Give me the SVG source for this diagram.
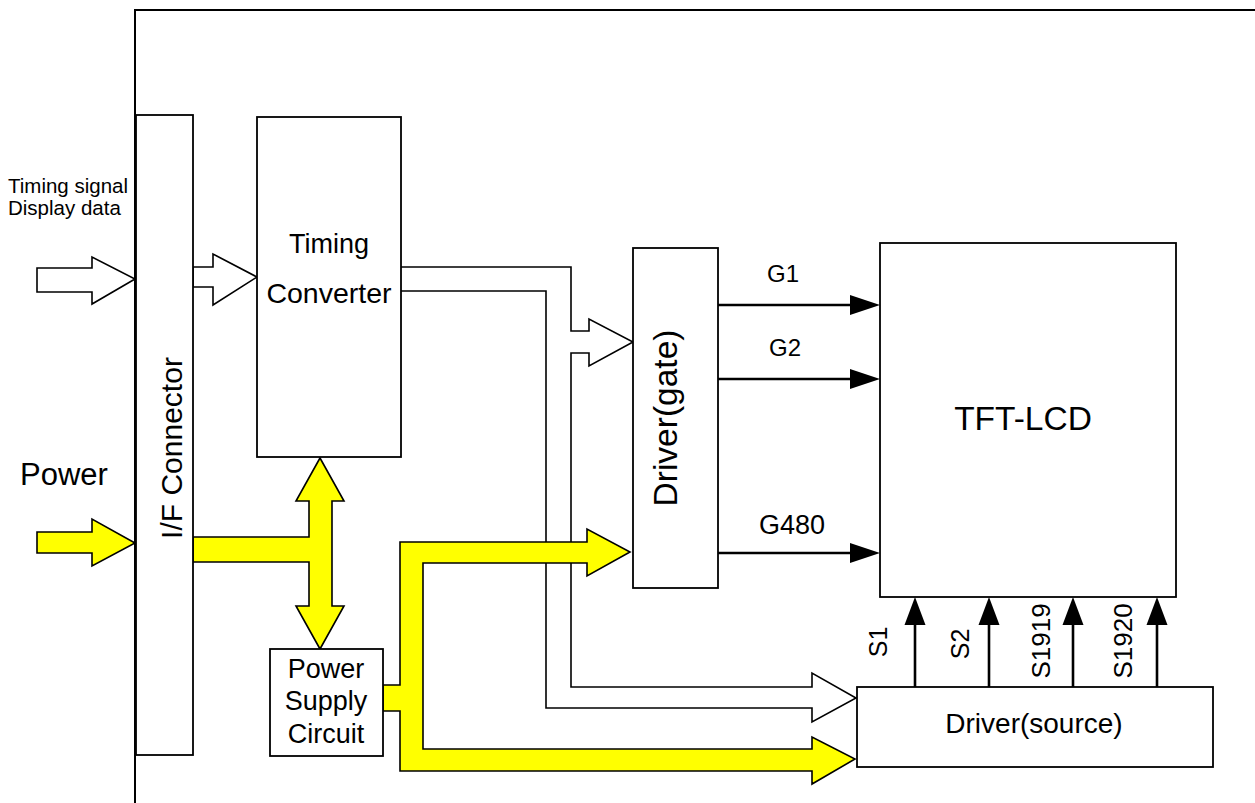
<svg xmlns="http://www.w3.org/2000/svg" width="1255" height="803" viewBox="0 0 1255 803">
<defs>
<style>
.box{fill:#fff;stroke:#000;stroke-width:1.8}
.frame{fill:none;stroke:#000;stroke-width:2}
.hollow{fill:#fff;stroke:#000;stroke-width:1.6;stroke-linejoin:miter}
.yel{fill:#ffff00;stroke:#000;stroke-width:1.6;stroke-linejoin:miter}
.sig{fill:none;stroke:#000;stroke-width:2.6}
.ah{fill:#000;stroke:none}
text{font-family:"Liberation Sans",Arial,sans-serif;fill:#000}
.c{text-anchor:middle}
</style>
</defs>
<rect width="1255" height="803" fill="#fff"/>
<path class="frame" d="M135,803 V10 H1255"/>

<g id="connectors">
<polyline class="hollow" style="fill:none" points="401,267 571,267 571,331 589,331 589,319 633,342 589,366 589,353 571,353 571,687 812,687 812,673 856,698 812,722 812,708 546,708 546,291 401,291"/>
<polygon class="hollow" points="37,268 92,268 92,257 135,279 92,304 92,292 37,292"/>
<polygon class="hollow" points="193,267 213,267 213,254 257,277 213,305 213,287 193,287"/>
<polygon class="yel" points="37,532 92,532 92,519 135,543 92,566 92,553 37,553"/>
<polygon class="yel" points="193,537 309,537 309,501 296,501 320,458 344,501 332,501 332,606 344,606 320,649 296,606 309,606 309,562 193,562"/>
<polygon class="yel" points="383,685 400,685 400,542 587,542 587,529 630,552 587,576 587,563 423,563 423,749 812,749 812,737 855,759 812,784 812,771 400,771 400,711 383,711"/>
<g>
<line class="sig" x1="717" y1="305" x2="852" y2="305"/><polygon class="ah" points="850,295 880,305 850,315"/>
<line class="sig" x1="717" y1="379" x2="852" y2="379"/><polygon class="ah" points="850,369 880,379 850,389"/>
<line class="sig" x1="717" y1="553" x2="852" y2="553"/><polygon class="ah" points="850,543 880,553 850,563"/>
<line class="sig" x1="915" y1="687" x2="915" y2="622"/><polygon class="ah" points="904.5,625 915,597 925.5,625"/>
<line class="sig" x1="989" y1="687" x2="989" y2="622"/><polygon class="ah" points="978.5,625 989,597 999.5,625"/>
<line class="sig" x1="1073" y1="687" x2="1073" y2="622"/><polygon class="ah" points="1062.5,625 1073,597 1083.5,625"/>
<line class="sig" x1="1157" y1="687" x2="1157" y2="622"/><polygon class="ah" points="1146.5,625 1157,597 1167.5,625"/>
</g>
</g>

<g id="labels">
<text x="8" y="193" font-size="20.5">Timing signal</text>
<text x="8" y="215" font-size="20.5">Display data</text>
<text x="20" y="485" font-size="31">Power</text>
<text class="c" x="783" y="282" font-size="24">G1</text>
<text class="c" x="785" y="356" font-size="24">G2</text>
<text class="c" x="792" y="534" font-size="27">G480</text>
<text class="c" transform="translate(887,642) rotate(-90)" font-size="25">S1</text>
<text class="c" transform="translate(969,644) rotate(-90)" font-size="25">S2</text>
<text class="c" transform="translate(1050,641) rotate(-90)" font-size="26">S1919</text>
<text class="c" transform="translate(1132,641) rotate(-90)" font-size="26">S1920</text>
</g>

<g id="if-connector">
<rect class="box" x="136" y="115" width="57" height="640"/>
<text class="c" transform="translate(182,448) rotate(-90)" font-size="30">I/F Connector</text>
</g>
<g id="timing-converter">
<rect class="box" x="257" y="117" width="144" height="340"/>
<text class="c" x="329" y="253" font-size="27">Timing</text>
<text class="c" x="329" y="303" font-size="28.5">Converter</text>
</g>
<g id="driver-gate">
<rect class="box" x="633" y="248" width="85" height="340"/>
<text class="c" transform="translate(677,418) rotate(-90)" font-size="33.5">Driver(gate)</text>
</g>
<g id="tft-lcd">
<rect class="box" x="880" y="243" width="296" height="354"/>
<text class="c" x="1023" y="430" font-size="33.5">TFT-LCD</text>
</g>
<g id="driver-source">
<rect class="box" x="857" y="687" width="356" height="80"/>
<text class="c" x="1034" y="733" font-size="28">Driver(source)</text>
</g>
<g id="power-supply">
<rect class="box" x="270" y="649" width="113" height="107"/>
<text class="c" x="326" y="678" font-size="27">Power</text>
<text class="c" x="326" y="710" font-size="27">Supply</text>
<text class="c" x="326" y="743" font-size="27">Circuit</text>
</g>
</svg>
